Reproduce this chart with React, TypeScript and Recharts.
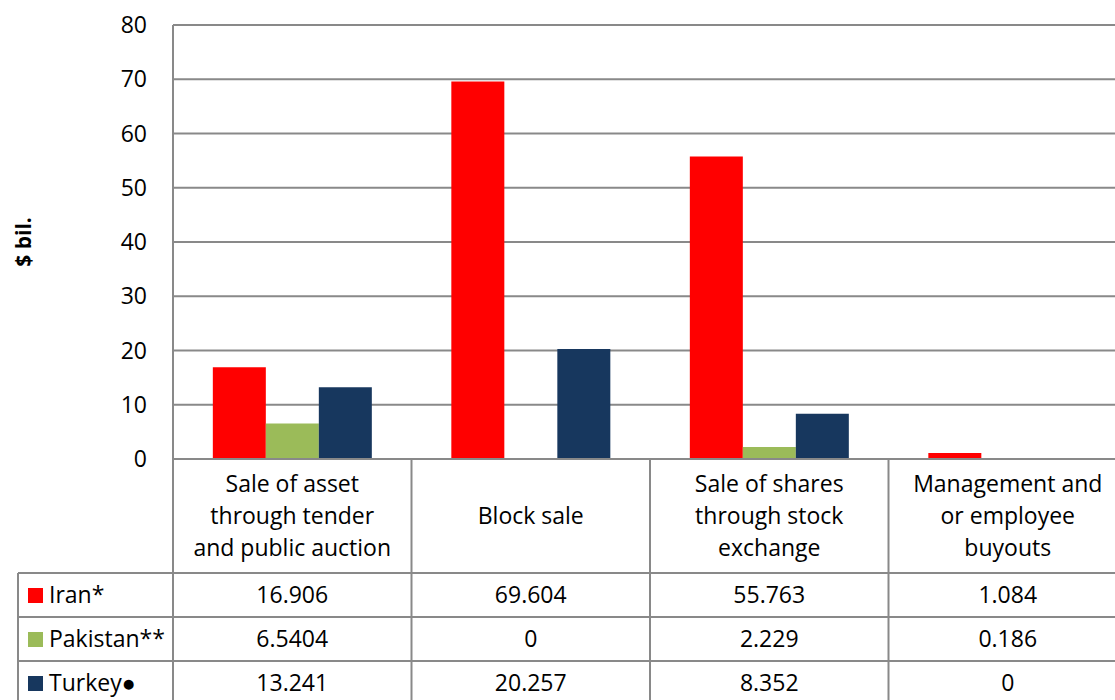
import { BarChart, Bar, XAxis, YAxis, CartesianGrid } from 'recharts';

const categories = [
  'Sale of asset|through tender|and public auction',
  'Block sale',
  'Sale of shares|through stock|exchange',
  'Management and|or employee|buyouts',
];
const iran = [16.906, 69.604, 55.763, 1.084];
const pakistan = [6.5404, 0, 2.229, 0.186];
const turkey = [13.241, 20.257, 8.352, 0];
const valueLabels = [
  ['16.906', '69.604', '55.763', '1.084'],
  ['6.5404', '0', '2.229', '0.186'],
  ['13.241', '20.257', '8.352', '0'],
];
const seriesNames = ['Iran*', 'Pakistan**', 'Turkey\u25CF'];
const seriesColors = ['#FF0000', '#9BBB59', '#17375E'];
const yTicks = [0, 10, 20, 30, 40, 50, 60, 70, 80];

const data = categories.map((c, i) => ({
  category: c,
  iran: iran[i],
  pakistan: pakistan[i],
  turkey: turkey[i],
}));

const FONT = '"Open Sans", sans-serif';
const GRID = '#898989';
const HEADER_H = 114;
const ROW_H = 44;

const TableTick = (props: any) => {
  const { x, y, payload, index } = props;
  const half = payload.offset ?? 119;
  const lines = String(payload.value).split('|');
  const mid = y + HEADER_H / 2;
  const left = x - half;
  const right = x + half;
  return (
    <g>
      <line x1={left} y1={y} x2={left} y2={y + HEADER_H + ROW_H * 3 + 10} stroke={GRID} strokeWidth={2} />
      {index === categories.length - 1 && (
        <line x1={right} y1={y} x2={right} y2={y + HEADER_H + ROW_H * 3 + 10} stroke={GRID} strokeWidth={2} />
      )}
      {lines.map((l, i) => (
        <text
          key={i}
          x={x}
          y={mid + (i - (lines.length - 1) / 2) * 32 + 8}
          textAnchor="middle"
          fontSize={23}
          fontFamily={FONT}
          fill="#000"
        >
          {l}
        </text>
      ))}
      {valueLabels.map((row, r) => (
        <text
          key={r}
          x={x}
          y={y + HEADER_H + ROW_H * r + ROW_H / 2 + 8}
          textAnchor="middle"
          fontSize={23}
          fontFamily={FONT}
          fill="#000"
        >
          {row[index]}
        </text>
      ))}
      {index === 0 && (
        <g>
          <line x1={18} y1={y + HEADER_H} x2={18} y2={y + HEADER_H + ROW_H * 3 + 10} stroke={GRID} strokeWidth={2} />
          {seriesNames.map((n, r) => {
            const rowTop = y + HEADER_H + ROW_H * r;
            return (
              <g key={n}>
                <line x1={18} y1={rowTop} x2={1140} y2={rowTop} stroke={GRID} strokeWidth={2} />
                <rect x={28} y={rowTop + ROW_H / 2 - 7} width={15} height={15} fill={seriesColors[r]} />
                <text x={49} y={rowTop + ROW_H / 2 + 8} fontSize={23} fontFamily={FONT} fill="#000">
                  {n}
                </text>
              </g>
            );
          })}
        </g>
      )}
    </g>
  );
};

export default function App() {
  return (
    <div style={{ width: 1135, height: 706, background: '#fff' }}>
      <style>{`body{margin:0;overflow:hidden;background:#fff}`}</style>
      <BarChart
        width={1135}
        height={706}
        data={data}
        margin={{ top: 25, right: 8, left: 0, bottom: 0 }}
        barCategoryGap="16.7%"
        barGap={0}
      >
        <CartesianGrid vertical={false} stroke={GRID} strokeWidth={2} />
        <XAxis
          dataKey="category"
          height={247}
          axisLine={{ stroke: GRID, strokeWidth: 2 }}
          tickLine={false}
          tickSize={0}
          tickMargin={0}
          interval={0}
          tick={<TableTick />}
        />
        <YAxis
          width={173}
          domain={[0, 80]}
          ticks={yTicks}
          axisLine={{ stroke: GRID, strokeWidth: 2 }}
          tickLine={false}
          tickSize={0}
          tickMargin={26}
          tick={{ fontSize: 23, fontFamily: FONT, fill: '#000' }}
          label={{
            value: '$ bil.',
            angle: -90,
            position: 'insideLeft',
            offset: 24,
            style: { fontSize: 21, fontWeight: 'bold', fontFamily: FONT, fill: '#000', textAnchor: 'middle' },
          }}
        />
        {['iran', 'pakistan', 'turkey'].map((k, i) => (
          <Bar key={k} dataKey={k} fill={seriesColors[i]} isAnimationActive={false} />
        ))}
      </BarChart>
    </div>
  );
}
